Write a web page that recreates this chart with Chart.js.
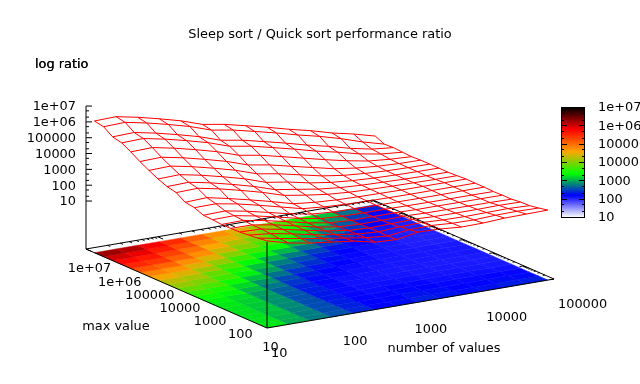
<!DOCTYPE html>
<html>
<head>
<meta charset="utf-8">
<title>Sleep sort / Quick sort performance ratio</title>
<script src="https://cdn.jsdelivr.net/npm/chart.js@4"></script>
<style>
  html, body { margin: 0; padding: 0; background: #fff; }
  canvas { display: block; }
</style>
</head>
<body>
<canvas id="chart" width="640" height="384"></canvas>
<script>
const chartTitle = "Sleep sort / Quick sort performance ratio";
const zTitle = "log ratio";
const xTitle = "number of values";
const yTitle = "max value";

const numberOfValues = [10, 20, 40, 80, 160, 320, 640, 1280, 2560, 5120, 10240, 20480, 40960, 81920];
const maxValues = [10, 20, 40, 80, 160, 320, 640, 1280, 2560, 5120, 10240, 20480, 40960, 81920,
    163840, 327680, 655360, 1310720, 2621440, 5242880];

// log10 of the ratio, one row per max value, one column per number of values
const logRatio = [
    [3.47, 3.11, 2.87, 2.70, 2.53, 2.23, 2.16, 2.40, 2.36, 2.25, 2.27, 2.35, 2.37, 2.39],
    [3.40, 3.14, 2.90, 2.68, 2.47, 2.26, 2.14, 2.30, 2.33, 2.24, 2.22, 2.28, 2.30, 2.27],
    [3.34, 3.20, 2.95, 2.66, 2.44, 2.24, 2.15, 2.24, 2.27, 2.20, 2.18, 2.20, 2.22, 2.17],
    [3.28, 3.24, 2.98, 2.70, 2.42, 2.22, 2.14, 2.18, 2.22, 2.16, 2.15, 2.15, 2.17, 2.15],
    [3.26, 3.25, 3.02, 2.72, 2.41, 2.20, 2.13, 2.14, 2.17, 2.13, 2.12, 2.11, 2.10, 2.08],
    [3.26, 3.28, 3.04, 2.74, 2.43, 2.20, 2.12, 2.12, 2.13, 2.10, 2.10, 2.09, 2.09, 2.08],
    [3.31, 3.33, 3.08, 2.78, 2.46, 2.22, 2.13, 2.11, 2.11, 2.09, 2.08, 2.07, 2.07, 2.06],
    [3.34, 3.38, 3.13, 2.82, 2.50, 2.25, 2.15, 2.12, 2.10, 2.09, 2.08, 2.08, 2.09, 2.09],
    [3.57, 3.58, 3.34, 3.02, 2.68, 2.34, 2.22, 2.15, 2.12, 2.10, 2.09, 2.09, 2.09, 2.09],
    [3.66, 3.72, 3.43, 3.11, 2.77, 2.40, 2.26, 2.18, 2.14, 2.12, 2.10, 2.10, 2.10, 2.10],
    [4.02, 4.06, 3.79, 3.46, 3.10, 2.68, 2.46, 2.28, 2.18, 2.13, 2.10, 2.08, 2.06, 2.06],
    [4.15, 4.19, 3.92, 3.59, 3.23, 2.79, 2.58, 2.36, 2.22, 2.14, 2.10, 2.06, 2.04, 2.03],
    [4.38, 4.42, 4.15, 3.82, 3.46, 3.00, 2.79, 2.50, 2.30, 2.18, 2.11, 2.07, 2.05, 2.04],
    [4.67, 4.71, 4.44, 4.11, 3.75, 3.29, 3.06, 2.76, 2.46, 2.26, 2.15, 2.08, 2.05, 2.04],
    [4.98, 5.02, 4.75, 4.42, 4.06, 3.60, 3.37, 3.05, 2.74, 2.43, 2.24, 2.12, 2.06, 2.04],
    [5.34, 5.38, 5.11, 4.78, 4.42, 3.96, 3.73, 3.41, 3.08, 2.75, 2.45, 2.20, 2.08, 2.01],
    [5.66, 5.70, 5.43, 5.10, 4.74, 4.28, 4.05, 3.73, 3.40, 3.04, 2.74, 2.40, 2.16, 2.04],
    [5.79, 5.83, 5.56, 5.23, 4.87, 4.41, 4.18, 3.86, 3.53, 3.17, 2.86, 2.50, 2.22, 2.08],
    [6.18, 6.22, 5.95, 5.62, 5.26, 4.80, 4.57, 4.25, 3.92, 3.56, 3.24, 2.86, 2.42, 2.05],
    [6.29, 6.33, 6.06, 5.73, 5.37, 4.91, 4.68, 4.36, 4.03, 3.67, 3.35, 2.97, 2.67, 2.31]
];

const xTicks = [10, 100, 1000, 10000, 100000];
const xTickLabels = ["10", "100", "1000", "10000", "100000"];
const yTicks = [10, 100, 1000, 10000, 100000, 1000000, 10000000];
const yTickLabels = ["10", "100", "1000", "10000", "100000", "1e+06", "1e+07"];
const zTicks = [10, 100, 1000, 10000, 100000, 1000000, 10000000];
const zTickLabels = ["10", "100", "1000", "10000", "100000", "1e+06", "1e+07"];

const paletteColors = [[255, 255, 255], [0, 0, 255], [0, 255, 0], [255, 165, 0], [255, 0, 0], [0, 0, 0]];

const FONT = '12.9px "DejaVu Sans"';
const TEXT_COLOR = "#000";
const Z_FLOOR = -2.03;

// the view gnuplot used: axis ends on the page, in pixels
function project(logX, logY, logZ) {
    const fx = (logX - 1) / 4;
    const fy = (logY - 1) / 6;
    return {
        x: 267 + 287 * fx - 181 * fy,
        y: 328 - 49 * fx - 79 * fy - (logZ - Z_FLOOR) * 15.83
    };
}

function paletteColor(logValue) {
    const t = Math.min(1, Math.max(0, (logValue - 1) / 6)) * (paletteColors.length - 1);
    const k = Math.min(paletteColors.length - 2, Math.floor(t));
    const a = paletteColors[k];
    const b = paletteColors[k + 1];
    const f = t - k;
    return "rgb(" + a.map((c, n) => Math.round(c + (b[n] - c) * f)).join(",") + ")";
}

function wireDataset(points) {
    return {
        data: points,
        showLine: true,
        borderColor: "#ff0000",
        borderWidth: 1,
        pointRadius: 0,
        tension: 0
    };
}

function axisDataset(points) {
    return {
        data: points,
        showLine: true,
        borderColor: "#000",
        borderWidth: 1,
        pointRadius: 0,
        tension: 0
    };
}

const logXs = numberOfValues.map(v => Math.log10(v));
const logYs = maxValues.map(v => Math.log10(v));

const datasets = [];
// red wire of the surface, both directions
logRatio.forEach((row, j) => {
    datasets.push(wireDataset(row.map((z, i) => project(logXs[i], logYs[j], z))));
});
numberOfValues.forEach((v, i) => {
    datasets.push(wireDataset(logRatio.map((row, j) => project(logXs[i], logYs[j], row[i]))));
});
// box around the base, the z axis and the front riser
datasets.push(axisDataset([
    project(1, 7, Z_FLOOR), project(1, 1, Z_FLOOR), project(5, 1, Z_FLOOR),
    project(5, 7, Z_FLOOR), project(1, 7, Z_FLOOR)
]));
datasets.push(axisDataset([project(1, 7, Z_FLOOR), project(1, 7, 7)]));
datasets.push(axisDataset([project(1, 1, Z_FLOOR), project(1, 1, 3.4)]));

function line(ctx, scales, a, b) {
    ctx.beginPath();
    ctx.moveTo(scales.x.getPixelForValue(a.x), scales.y.getPixelForValue(a.y));
    ctx.lineTo(scales.x.getPixelForValue(b.x), scales.y.getPixelForValue(b.y));
    ctx.stroke();
}

const heatPlugin = {
    id: "heat",
    beforeDatasetsDraw(chart) {
        const ctx = chart.ctx;
        const { x: sx, y: sy } = chart.scales;
        ctx.save();
        for (let j = 0; j < logRatio.length - 1; j++) {
            for (let i = 0; i < numberOfValues.length - 1; i++) {
                const mean = (logRatio[j][i] + logRatio[j][i + 1] + logRatio[j + 1][i] + logRatio[j + 1][i + 1]) / 4;
                const corners = [
                    project(logXs[i], logYs[j], Z_FLOOR),
                    project(logXs[i + 1], logYs[j], Z_FLOOR),
                    project(logXs[i + 1], logYs[j + 1], Z_FLOOR),
                    project(logXs[i], logYs[j + 1], Z_FLOOR)
                ];
                const color = paletteColor(mean);
                ctx.fillStyle = color;
                ctx.strokeStyle = color;
                ctx.lineWidth = 0.5;
                ctx.beginPath();
                corners.forEach((p, n) => {
                    const px = sx.getPixelForValue(p.x);
                    const py = sy.getPixelForValue(p.y);
                    if (n === 0) ctx.moveTo(px, py); else ctx.lineTo(px, py);
                });
                ctx.closePath();
                ctx.fill();
                ctx.stroke();
            }
        }
        ctx.restore();
    }
};

const frame = { left: 561, right: 585, top: 107, bottom: 217 };

const labelsPlugin = {
    id: "labels",
    afterDatasetsDraw(chart) {
        const ctx = chart.ctx;
        const scales = chart.scales;
        const sx = scales.x;
        const sy = scales.y;
        ctx.save();
        ctx.strokeStyle = "#000";
        ctx.lineWidth = 1;

        // log ticks on the back edges of the base
        for (let d = 1; d <= 4; d++) {
            for (let m = 1; m <= 9; m++) {
                const lx = d + Math.log10(m);
                const len = m === 1 ? 0.06 : 0.03;
                line(ctx, scales, project(lx, 7, Z_FLOOR), project(lx, 7 - len * 6 / 2, Z_FLOOR));
            }
        }
        for (let d = 1; d <= 6; d++) {
            for (let m = 1; m <= 9; m++) {
                const ly = d + Math.log10(m);
                const len = m === 1 ? 0.03 : 0.015;
                line(ctx, scales, project(5, ly, Z_FLOOR), project(5 - len * 4 / 2, ly, Z_FLOOR));
            }
        }

        // z axis ticks
        zTicks.forEach((t, n) => {
            const lz = Math.log10(t);
            const p = project(1, 7, lz);
            line(ctx, scales, p, { x: p.x + 6, y: p.y });
            if (n < zTicks.length - 1) {
                [2, 5].forEach(m => {
                    const q = project(1, 7, lz + Math.log10(m));
                    line(ctx, scales, q, { x: q.x + 3, y: q.y });
                });
            }
        });

        // colour box
        const steps = frame.bottom - frame.top;
        for (let n = 0; n < steps; n++) {
            ctx.fillStyle = paletteColor(1 + 6 * (n + 0.5) / steps);
            const top = sy.getPixelForValue(frame.bottom - n - 1);
            ctx.fillRect(sx.getPixelForValue(frame.left), top, frame.right - frame.left, 1.5);
        }
        const cbY = logV => frame.bottom - (logV - 1) / 6 * (frame.bottom - frame.top);
        zTicks.forEach((t, n) => {
            const lz = Math.log10(t);
            const tick = (logV, size) => {
                const y = Math.round(cbY(logV)) + 0.5;
                line(ctx, scales, { x: frame.left, y }, { x: frame.left + size, y });
                line(ctx, scales, { x: frame.right, y }, { x: frame.right - size, y });
            };
            tick(lz, 6);
            if (n < zTicks.length - 1) {
                tick(lz + Math.log10(2), 3);
                tick(lz + Math.log10(5), 3);
            }
        });
        ctx.strokeRect(frame.left + 0.5, frame.top + 0.5, frame.right - frame.left - 1, frame.bottom - frame.top);

        // text
        ctx.font = FONT;
        ctx.fillStyle = TEXT_COLOR;
        ctx.textBaseline = "middle";

        ctx.textAlign = "center";
        ctx.fillText(chartTitle, 320, 35);
        ctx.fillText(yTitle, 116, 327);
        ctx.fillText(xTitle, 444, 349);

        ctx.textAlign = "left";
        ctx.fillText(zTitle, 35, 65);
        ctx.fillText(zTitle, 35, 65);

        xTicks.forEach((t, n) => {
            const p = project(Math.log10(t), 1, Z_FLOOR);
            ctx.fillText(xTickLabels[n], p.x + 4, p.y + 26);
        });
        ctx.textAlign = "center";
        yTicks.forEach((t, n) => {
            const p = project(1, Math.log10(t), Z_FLOOR);
            ctx.fillText(yTickLabels[n], p.x + 3.5, p.y + 20);
        });
        ctx.textAlign = "right";
        zTicks.forEach((t, n) => {
            const p = project(1, 7, Math.log10(t));
            ctx.fillText(zTickLabels[n], p.x - 10, p.y + 1);
        });
        ctx.textAlign = "left";
        zTicks.forEach((t, n) => {
            ctx.fillText(zTickLabels[n], frame.right + 13, cbY(Math.log10(t)) + 1);
        });
        ctx.restore();
    }
};

new Chart(document.getElementById("chart").getContext("2d"), {
    type: "scatter",
    data: { datasets },
    options: {
        responsive: false,
        animation: false,
        events: [],
        layout: { padding: 0 },
        plugins: { legend: { display: false }, tooltip: { enabled: false }, title: { display: false } },
        scales: {
            x: { type: "linear", min: 0, max: 640, display: false },
            y: { type: "linear", min: 0, max: 384, reverse: true, display: false }
        }
    },
    plugins: [heatPlugin, labelsPlugin]
});
</script>
</body>
</html>
